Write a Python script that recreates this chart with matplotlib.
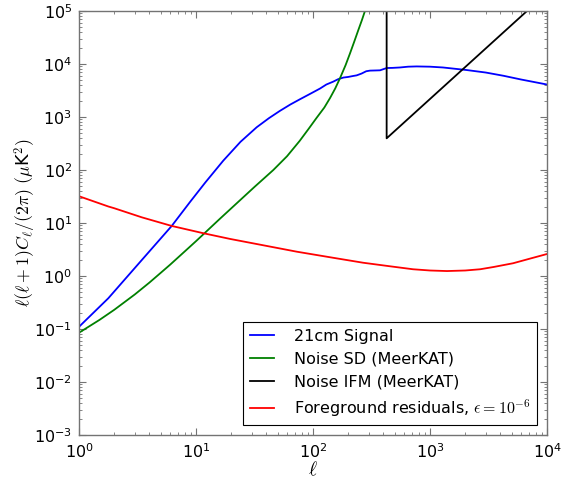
import numpy as np
import matplotlib
matplotlib.use("Agg")
import matplotlib.pyplot as plt

plt.rcParams['font.family'] = ['DejaVu Sans']
plt.rcParams['mathtext.fontset'] = 'cm'
plt.rcParams['axes.unicode_minus'] = False

# 21cm signal
sig_l = [1, 1.78, 3.44, 6.2, 8.9, 12, 17.1, 24, 33, 42, 52, 64, 77, 95, 115, 130, 149,
         165, 182, 200, 221, 236, 260, 285, 307, 340, 374, 400, 427, 480, 554, 650,
         769, 1000, 1290, 2050, 3000, 4240, 6000, 10000]
sig_v = [0.11, 0.38, 2.0, 8.8, 25, 58, 150, 340, 640, 950, 1300, 1720, 2150, 2750,
         3450, 4100, 4650, 5200, 5550, 5700, 5950, 6100, 6600, 7300, 7500, 7550, 7600,
         8000, 8400, 8450, 8600, 8900, 9000, 8900, 8600, 7700, 6900, 6000, 5100, 4100]

# Single-dish noise
sd_l = [1, 1.5, 2, 3, 4, 5, 6, 8, 10, 11.6, 15.8, 21.5, 31.6, 45.8, 60, 77, 92, 107,
        125, 140, 155, 170, 190, 207, 225, 244, 262, 278, 300]
sd_v = [0.085, 0.149, 0.230, 0.449, 0.752, 1.15, 1.63, 2.90, 4.54, 6.17, 11.7, 21.9,
        47.9, 100, 182, 355, 603, 955, 1510, 2290, 3470, 5370, 9550, 15800, 26300,
        43700, 67600, 100000, 178000]

# Interferometer noise
ifm_l = [426, 426, 10000]
ifm_v = [1e7, 396, 2.2e5]

# Foreground residuals
fg_l = [1, 1.78, 2, 3.44, 6.2, 11.6, 19.6, 40, 73, 150, 268, 450, 716, 1000, 1397,
        2000, 2680, 3500, 5130, 7000, 10000]
fg_v = [32, 20.5, 19, 12.8, 8.8, 6.4, 5.0, 3.7, 2.87, 2.2, 1.78, 1.53, 1.34, 1.27,
        1.24, 1.27, 1.34, 1.48, 1.74, 2.1, 2.6]

fig = plt.figure(figsize=(5.7, 4.82), dpi=100)
ax = fig.add_axes([79/570, 1-435/482, 468/570, 424/482])

lw = 1.3
ax.loglog(sig_l, sig_v, color='b', lw=lw, label='21cm Signal')
ax.loglog(sd_l, sd_v, color='g', lw=lw, label='Noise SD (MeerKAT)')
ax.loglog(ifm_l, ifm_v, color='k', lw=lw, label='Noise IFM (MeerKAT)')
ax.loglog(fg_l, fg_v, color='r', lw=lw, label=r'Foreground residuals, $\epsilon=10^{-6}$')

ax.set_xlim(1, 1e4)
ax.set_ylim(1e-3, 1e5)

spine_c = '0.45'
for s in ax.spines.values():
    s.set_color(spine_c)
    s.set_linewidth(1.0)
ax.tick_params(which='both', direction='in', top=True, right=True, color=spine_c,
               labelsize=11.5, pad=5)
ax.tick_params(which='major', length=5)
ax.tick_params(which='minor', length=2.5)

ax.set_xlabel(r'$\ell$', fontsize=14, labelpad=0)
ax.set_ylabel(r'$\ell(\ell+1)C_\ell/(2\pi)$ $(\mu$K$^2)$', fontsize=12.8)
ax.yaxis.set_label_coords(-0.088, 0.5)

leg = ax.legend(loc='lower right', fontsize=11.5, handlelength=1.5, handletextpad=1.3,
                fancybox=False, framealpha=1, edgecolor='k', borderaxespad=0.6)
leg.get_frame().set_linewidth(0.8)

fig.savefig('out.png', dpi=100, facecolor='white')
